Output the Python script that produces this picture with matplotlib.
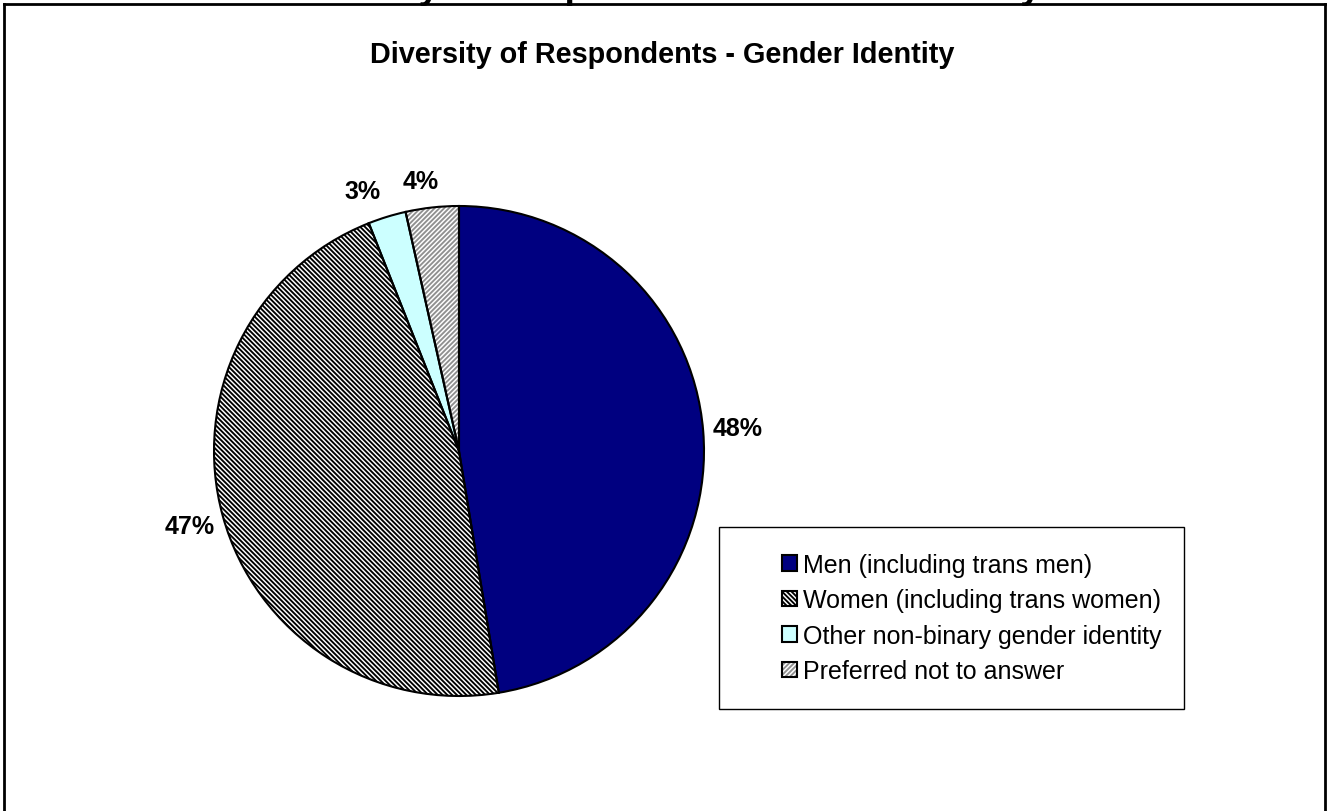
import matplotlib
matplotlib.use("Agg")
import matplotlib.pyplot as plt
from matplotlib.lines import Line2D
from matplotlib.patches import Rectangle

plt.rcParams['font.family'] = ['Liberation Sans', 'DejaVu Sans']
plt.rcParams['hatch.linewidth'] = 1.35

title = "Diversity of Respondents - Gender Identity"
categories = ["Men (including trans men)", "Women (including trans women)",
              "Other non-binary gender identity", "Preferred not to answer"]
shares = [47.4, 46.6, 2.5, 3.5]
pct_labels = ["48%", "47%", "3%", "4%"]

colors = ['#000080', 'white', '#CCFFFF', 'white']
hatches = [None, '\\' * 7, None, '/' * 7]
hatch_cols = ['#000080', 'black', '#CCFFFF', '#909090']

W, H = 1329, 812
fig = plt.figure(figsize=(W / 100, H / 100), dpi=100)

# pie axes: centre (459, 452), radius 245 px
cx, cy, r = 459, 452, 245
ax = fig.add_axes([(cx - r) / W, (H - cy - r) / H, 2 * r / W, 2 * r / H])

# pass 1: fills + hatches (edgecolor drives hatch colour)
wedges, texts = ax.pie(shares, labels=pct_labels, colors=colors, startangle=90,
                       counterclock=False, labeldistance=1.14,
                       wedgeprops=dict(linewidth=0))
for w, h, hc in zip(wedges, hatches, hatch_cols):
    w.set_edgecolor(hc)
    if h:
        w.set_hatch(h)
for t in texts:
    t.set_ha('center')
    t.set_va('center')
    t.set_fontsize(18)
    t.set_fontweight('bold')
# small slices: excel pushes these a bit left
texts[2].set_position((texts[2].get_position()[0] - 0.06, texts[2].get_position()[1] - 0.03))
texts[3].set_position((texts[3].get_position()[0] - 0.03, texts[3].get_position()[1] - 0.03))

# pass 2: black outlines
outlines, _ = ax.pie(shares, startangle=90, counterclock=False,
                     wedgeprops=dict(fill=False, edgecolor='black', linewidth=1.5))
ax.set_xlim(-1, 1)
ax.set_ylim(-1, 1)
ax.set_aspect('equal')

# legend box drawn separately (entries sit off-centre inside it)
fig.add_artist(Rectangle((719 / W, 1 - 710 / H), 465 / W, 182 / H, fill=False,
                         edgecolor='black', linewidth=1.0, transform=fig.transFigure))
handles = list(zip(wedges, outlines))
leg = fig.legend(handles, categories, loc='center left',
                 bbox_to_anchor=(782 / W, 1 - 619 / H), bbox_transform=fig.transFigure,
                 prop={'size': 18}, frameon=False,
                 handlelength=0.6, handleheight=0.6, handletextpad=0.25,
                 labelspacing=0.46, borderpad=0, borderaxespad=0)

# chart titles
fig.text(662 / W, 1 - 55 / H, title, ha='center', va='center',
         fontsize=20.8, fontweight='bold')
fig.text(661 / W, 1 + 2 / H, title, ha='center', va='baseline',
         fontsize=27, fontweight='bold')

# outer chart frame
for xs, ys in [([4, 4], [5, 830]), ([4, 1325], [5, 5]), ([1325, 1325], [5, 830])]:
    fig.add_artist(Line2D([x / W for x in xs], [1 - y / H for y in ys],
                          color='black', linewidth=2, transform=fig.transFigure))

fig.savefig('out.png', dpi=100)
